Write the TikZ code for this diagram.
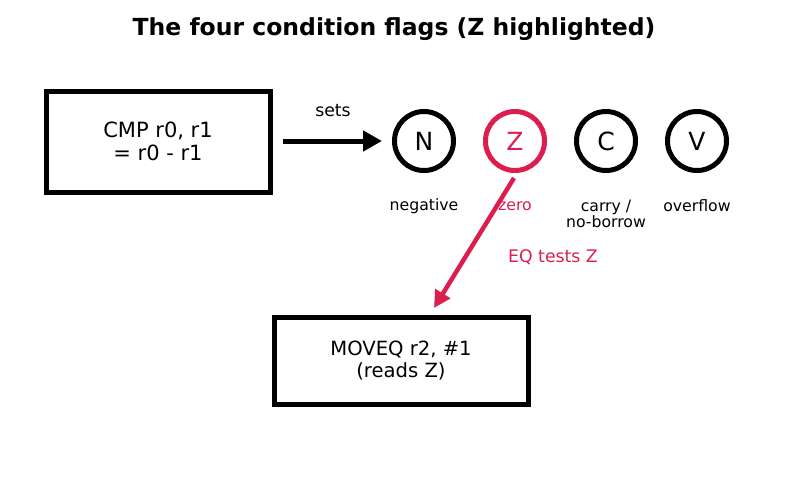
\documentclass[tikz,border=0pt]{standalone}
\usepackage{fontspec}
\setmainfont{DejaVu Sans}
\usetikzlibrary{arrows.meta,positioning}
\definecolor{zred}{RGB}{220,30,78}

\tikzset{
  instr/.style={draw, line width=5pt, rectangle, align=center, font=\fontsize{21}{22.5}\selectfont},
  flag/.style={draw, line width=5pt, circle, minimum size=59pt, inner sep=0pt, font=\fontsize{25}{28}\selectfont},
  flaglabel/.style={align=center, font=\fontsize{15.7}{17}\selectfont},
}

\begin{document}
\begin{tikzpicture}[x=1pt, y=-1pt]
  \useasboundingbox (0,0) rectangle (787,480);

  % Titel
  \node[font=\bfseries\fontsize{23.5}{26}\selectfont] (title) at (394,29) {The four condition flags (Z highlighted)};

  % Instructies
  \node[instr, minimum width=224pt, minimum height=101pt] (cmp) at (158,141.5) {CMP r0, r1\\= r0 - r1};
  \node[instr, minimum width=254pt, minimum height=87pt, font=\fontsize{19.6}{22.5}\selectfont] (moveq) at (401,360.5) {MOVEQ r2, \#1\\(reads Z)};

  % Vlaggen
  \node[flag] (N) at (424,141) {N};
  \node[flag, draw=zred, text=zred] (Z) at (515,141) {Z};
  \node[flag] (C) at (606,141) {C};
  \node[flag] (V) at (697,141) {V};

  % Namen van de vlaggen
  \node[flaglabel] (Nlab) at (424,206) {negative};
  \node[flaglabel, text=zred] (Zlab) at (515,206) {zero};
  \node[flaglabel, anchor=north] (Clab) at (606,197) {carry /\\[-1pt]no-borrow};
  \node[flaglabel] (Vlab) at (697,206) {overflow};

  % Pijlen
  \coordinate (setsstart) at (283,141);
  \draw[line width=5pt, -{Triangle[length=19pt,width=20pt]}] (setsstart) -- (382,141);
  \node[font=\fontsize{17.3}{20}\selectfont] (setslab) at (333,111) {sets};
  \coordinate (zstart) at (514,178);
  \coordinate (zend) at (434,308);
  \draw[zred, line width=4.5pt, -{Triangle[length=17pt,width=17pt]}] (zstart) -- (zend);
  \node[text=zred, font=\fontsize{17.3}{20}\selectfont] (eqlab) at (553,257) {EQ tests Z};
\end{tikzpicture}
\end{document}
